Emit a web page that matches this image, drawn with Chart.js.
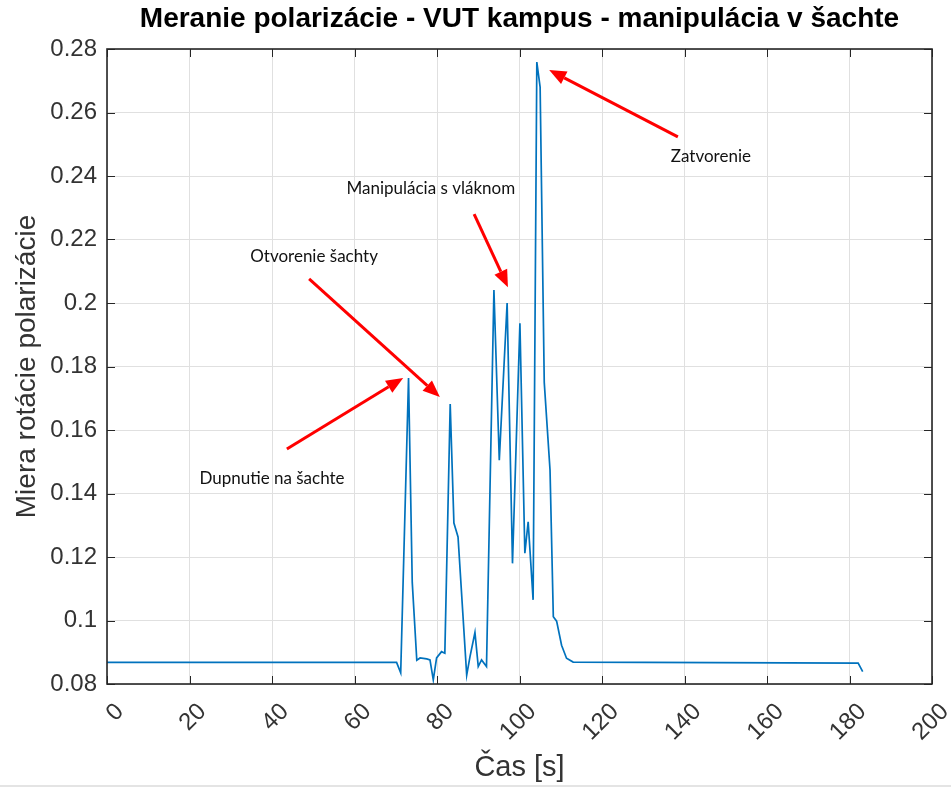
<!DOCTYPE html>
<html>
<head>
<meta charset="utf-8">
<script src="https://cdn.jsdelivr.net/npm/chart.js@4"></script>
<style>
  html, body { margin: 0; padding: 0; background: #fff; }
  #wrap { position: relative; width: 951px; height: 788px; }
  #edge { position: absolute; left: 0; top: 785px; width: 951px; height: 2px; background: #e4e4e4; }
</style>
</head>
<body>
<div id="wrap">
  <canvas id="chart" width="951" height="788"></canvas>
  <div id="edge"></div>
</div>
<script>
// Measured polarization rotation over time (seconds)
const timeSec = [0, 70.2, 71.2, 73.1, 74.0, 75.1, 75.9, 77.5, 78.3, 79.1, 79.9, 81.1, 81.9,
  83.2, 84.1, 85.1, 87.2, 88.0, 89.2, 90.0, 90.8, 92.0, 93.8, 95.1, 97.0, 98.3, 100.1,
  101.3, 102.1, 103.3, 104.2, 105.0, 106.0, 107.4, 108.2, 109.0, 110.2, 111.4, 113.0,
  182.1, 183.2];
const rotation = [0.0868, 0.0868, 0.0835, 0.1764, 0.112, 0.0875, 0.0882, 0.0879, 0.0876, 0.0813,
  0.0882, 0.0902, 0.0897, 0.1682, 0.1307, 0.1263, 0.0828, 0.0886, 0.0962, 0.0855, 0.0876,
  0.0855, 0.2041, 0.1505, 0.2000, 0.1180, 0.1936, 0.1212, 0.1311, 0.1065, 0.2759, 0.2680,
  0.1750, 0.1474, 0.1012, 0.0998, 0.0922, 0.0881, 0.0869, 0.0866, 0.0839];

// Axis tick values
const xTicks = [0, 20, 40, 60, 80, 100, 120, 140, 160, 180, 200];
const yTicks = [0.08, 0.10, 0.12, 0.14, 0.16, 0.18, 0.20, 0.22, 0.24, 0.26, 0.28];

// Text callouts with arrows, in data coordinates [time, value]
const callouts = [
  { text: 'Dupnutie na šachte',    at: [40.0, 0.1446],  from: [43.6, 0.1540], to: [71.8, 0.1764] },
  { text: 'Otvorenie šachty',      at: [50.2, 0.2145],  from: [49.0, 0.2076], to: [80.7, 0.1704] },
  { text: 'Manipulácia s vláknom', at: [78.5, 0.2362],  from: [89.0, 0.2280], to: [97.2, 0.2050] },
  { text: 'Zatvorenie',            at: [146.4, 0.2460], from: [138.4, 0.2523], to: [107.2, 0.2734] }
];

const AXIS_COLOR = '#333333';
const SANS = '"Liberation Sans", Arial, sans-serif';

const axesFrame = {
  id: 'axesFrame',
  afterDraw(chart) {
    const { ctx, chartArea: a, scales: { x, y } } = chart;
    ctx.save();

    // inward tick marks on all four sides
    ctx.strokeStyle = '#262626';
    ctx.lineWidth = 1;
    const len = 8;
    ctx.beginPath();
    x.ticks.forEach(t => {
      const px = Math.round(x.getPixelForValue(t.value)) + 0.5;
      ctx.moveTo(px, a.bottom); ctx.lineTo(px, a.bottom - len);
      ctx.moveTo(px, a.top);    ctx.lineTo(px, a.top + len);
    });
    y.ticks.forEach(t => {
      const py = Math.round(y.getPixelForValue(t.value)) + 0.5;
      ctx.moveTo(a.left, py);  ctx.lineTo(a.left + len, py);
      ctx.moveTo(a.right, py); ctx.lineTo(a.right - len, py);
    });
    ctx.stroke();

    // box
    ctx.lineWidth = 1.6;
    ctx.strokeRect(a.left, a.top, a.right - a.left, a.bottom - a.top);

    // rotated x tick labels, anchored by their right end
    ctx.fillStyle = AXIS_COLOR;
    ctx.font = '24px ' + SANS;
    ctx.textAlign = 'right';
    ctx.textBaseline = 'middle';
    x.ticks.forEach(t => {
      const px = x.getPixelForValue(t.value);
      ctx.save();
      ctx.translate(px + 13, a.bottom + 24);
      ctx.rotate(-Math.PI / 4);
      ctx.fillText(String(t.value), 0, 0);
      ctx.restore();
    });

    // callouts
    callouts.forEach(c => {
      const x0 = x.getPixelForValue(c.from[0]), y0 = y.getPixelForValue(c.from[1]);
      const x1 = x.getPixelForValue(c.to[0]),   y1 = y.getPixelForValue(c.to[1]);
      const ang = Math.atan2(y1 - y0, x1 - x0);
      const head = 17, half = 7;
      const bx = x1 - head * Math.cos(ang), by = y1 - head * Math.sin(ang);
      ctx.strokeStyle = '#ff0000';
      ctx.fillStyle = '#ff0000';
      ctx.lineWidth = 3;
      ctx.beginPath();
      ctx.moveTo(x0, y0); ctx.lineTo(bx, by);
      ctx.stroke();
      ctx.beginPath();
      ctx.moveTo(x1, y1);
      ctx.lineTo(bx + half * Math.sin(ang), by - half * Math.cos(ang));
      ctx.lineTo(bx - half * Math.sin(ang), by + half * Math.cos(ang));
      ctx.closePath();
      ctx.fill();

      ctx.fillStyle = '#111';
      ctx.font = '17px Lato, "Open Sans", sans-serif';
      ctx.textAlign = 'center';
      ctx.textBaseline = 'middle';
      ctx.fillText(c.text, x.getPixelForValue(c.at[0]), y.getPixelForValue(c.at[1]));
    });

    ctx.restore();
  }
};

new Chart(document.getElementById('chart'), {
  type: 'line',
  data: {
    datasets: [{
      data: timeSec.map((t, i) => ({ x: t, y: rotation[i] })),
      borderColor: '#0072BD',
      borderWidth: 1.7,
      pointRadius: 0,
      tension: 0,
      fill: false
    }]
  },
  options: {
    responsive: false,
    animation: false,
    layout: { padding: { left: 0, right: 19, top: 0, bottom: 0 } },
    plugins: {
      legend: { display: false },
      tooltip: { enabled: false },
      title: {
        display: true,
        fullSize: false,
        text: 'Meranie polarizácie - VUT kampus - manipulácia v šachte',
        color: '#000',
        font: { family: SANS, size: 28, weight: 'bold' },
        padding: { top: 2, bottom: 13.4 }
      }
    },
    scales: {
      x: {
        type: 'linear',
        min: 0,
        max: 200,
        afterBuildTicks: s => { s.ticks = xTicks.map(v => ({ value: v })); },
        afterFit: s => { s.height = 104; },
        ticks: { display: false },
        grid: { color: '#e0e0e0', lineWidth: 1, drawTicks: false },
        border: { display: false },
        title: {
          display: true,
          text: 'Čas [s]',
          color: AXIS_COLOR,
          font: { family: SANS, size: 29 },
          padding: { top: 0, bottom: 3 }
        }
      },
      y: {
        min: 0.08,
        max: 0.28,
        afterBuildTicks: s => { s.ticks = yTicks.map(v => ({ value: v })); },
        afterFit: s => { s.width = 107; },
        ticks: {
          color: AXIS_COLOR,
          font: { family: SANS, size: 24 },
          padding: 10,
          callback: v => String(Number(v.toFixed(2)))
        },
        grid: { color: '#e0e0e0', lineWidth: 1, drawTicks: false },
        border: { display: false },
        title: {
          display: true,
          text: 'Miera rotácie polarizácie',
          color: AXIS_COLOR,
          font: { family: SANS, size: 28 },
          padding: { top: 10, bottom: 0 }
        }
      }
    }
  },
  plugins: [axesFrame]
});
</script>
</body>
</html>
